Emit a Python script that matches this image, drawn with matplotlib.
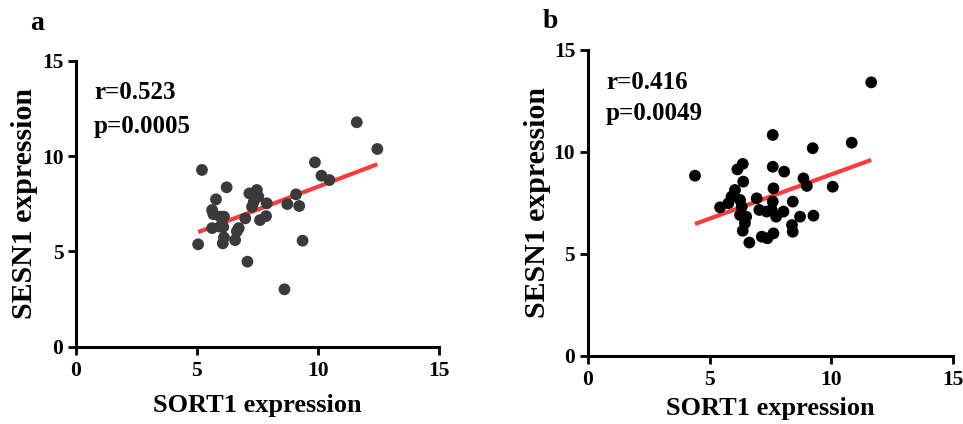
import numpy as np
import matplotlib
matplotlib.use('Agg')
from matplotlib import pyplot as plt

plt.rcParams['font.family'] = ['Liberation Serif', 'DejaVu Serif']
plt.rcParams['font.weight'] = 'bold'

# panel a: SORT1 vs SESN1
sort1_a = [5.05, 5.21, 5.63, 5.79, 5.63, 5.68, 5.96, 6.07, 6.12, 6.23, 6.12, 5.96,
           6.09, 6.58, 6.65, 6.73, 7.0, 7.09, 7.17, 7.28, 7.48, 7.54, 7.61, 7.86,
           7.89, 7.35, 8.62, 8.74, 9.10, 9.23, 9.37, 9.88, 10.15, 10.48, 11.61, 12.46]
sesn1_a = [5.37, 9.27, 6.22, 7.73, 7.17, 6.95, 6.82, 5.42, 5.73, 8.36, 6.82, 6.29,
           6.29, 5.59, 6.05, 6.22, 6.73, 4.46, 8.04, 7.34, 8.22, 7.87, 6.64, 6.85,
           7.52, 7.60, 3.01, 7.48, 7.99, 7.38, 5.56, 9.67, 8.97, 8.74, 11.77, 10.37]

# panel b
sort1_b = [4.40, 5.43, 5.77, 5.90, 6.04, 6.14, 6.36, 6.38, 6.25, 6.32, 6.25, 6.50,
           6.45, 6.36, 6.63, 6.93, 7.04, 7.14, 7.37, 7.34, 7.59, 7.59, 7.62, 7.59,
           7.62, 7.73, 7.55, 8.03, 8.06, 8.41, 8.38, 8.41, 8.71, 8.85, 8.99, 9.23,
           9.26, 10.05, 10.83, 11.63]
sesn1_b = [8.83, 7.28, 7.48, 7.80, 8.13, 9.14, 9.41, 8.54, 7.64, 7.31, 6.90, 6.82,
           6.50, 6.13, 5.55, 7.72, 7.15, 5.84, 5.76, 7.07, 10.83, 9.27, 8.21, 7.56,
           6.00, 6.82, 7.15, 7.07, 9.03, 7.56, 6.41, 6.08, 6.82, 8.70, 8.33, 10.18,
           6.87, 8.29, 10.45, 13.41]

stats_a = "r=0.523\np=0.0005"
stats_b = "r=0.416\np=0.0049"
ticks = [0, 5, 10, 15]


def panel(ax, x, y, color, stats, xpad, ypad, spacing):
    x = np.array(x)
    y = np.array(y)
    ax.scatter(x, y, s=72, c=color, edgecolors='none', zorder=3)
    k, b = np.polyfit(x, y, 1)
    xx = np.array([x.min(), x.max()])
    ax.plot(xx, k * xx + b, color='#ff3b3b', lw=3, zorder=2, solid_capstyle='butt')
    ax.set_xlim(0, 15)
    ax.set_ylim(0, 15)
    ax.set_xticks(ticks)
    ax.set_yticks(ticks)
    for s in ['top', 'right']:
        ax.spines[s].set_visible(False)
    for s in ['left', 'bottom']:
        ax.spines[s].set_linewidth(2.2)
    ax.tick_params(width=2, length=5.5, labelsize=15.5)
    ax.tick_params(axis='x', pad=5)
    ax.set_xlabel('SORT1 expression', fontsize=19, fontweight='bold', labelpad=xpad)
    ax.set_ylabel('SESN1 expression', fontsize=21.5, fontweight='bold', labelpad=ypad)
    ax.text(0.05, 0.93, stats, transform=ax.transAxes, fontsize=18,
            fontweight='bold', va='top', linespacing=spacing)


fig = plt.figure(figsize=(9.63, 4.24), dpi=100)
ax1 = fig.add_axes([0.0789, 0.1823, 0.3767, 0.6745])
ax2 = fig.add_axes([0.6103, 0.1611, 0.3797, 0.7211])
panel(ax1, sort1_a, sesn1_a, '#3a3a3a', stats_a, 9, 3, 1.6)
panel(ax2, sort1_b, sesn1_b, 'black', stats_b, 5, 2, 1.4)
fig.text(0.039, 0.945, 'a', fontsize=20, fontweight='bold', ha='center', va='center')
fig.text(0.572, 0.95, 'b', fontsize=20, fontweight='bold', ha='center', va='center')

fig.savefig('out.png', dpi=100)
